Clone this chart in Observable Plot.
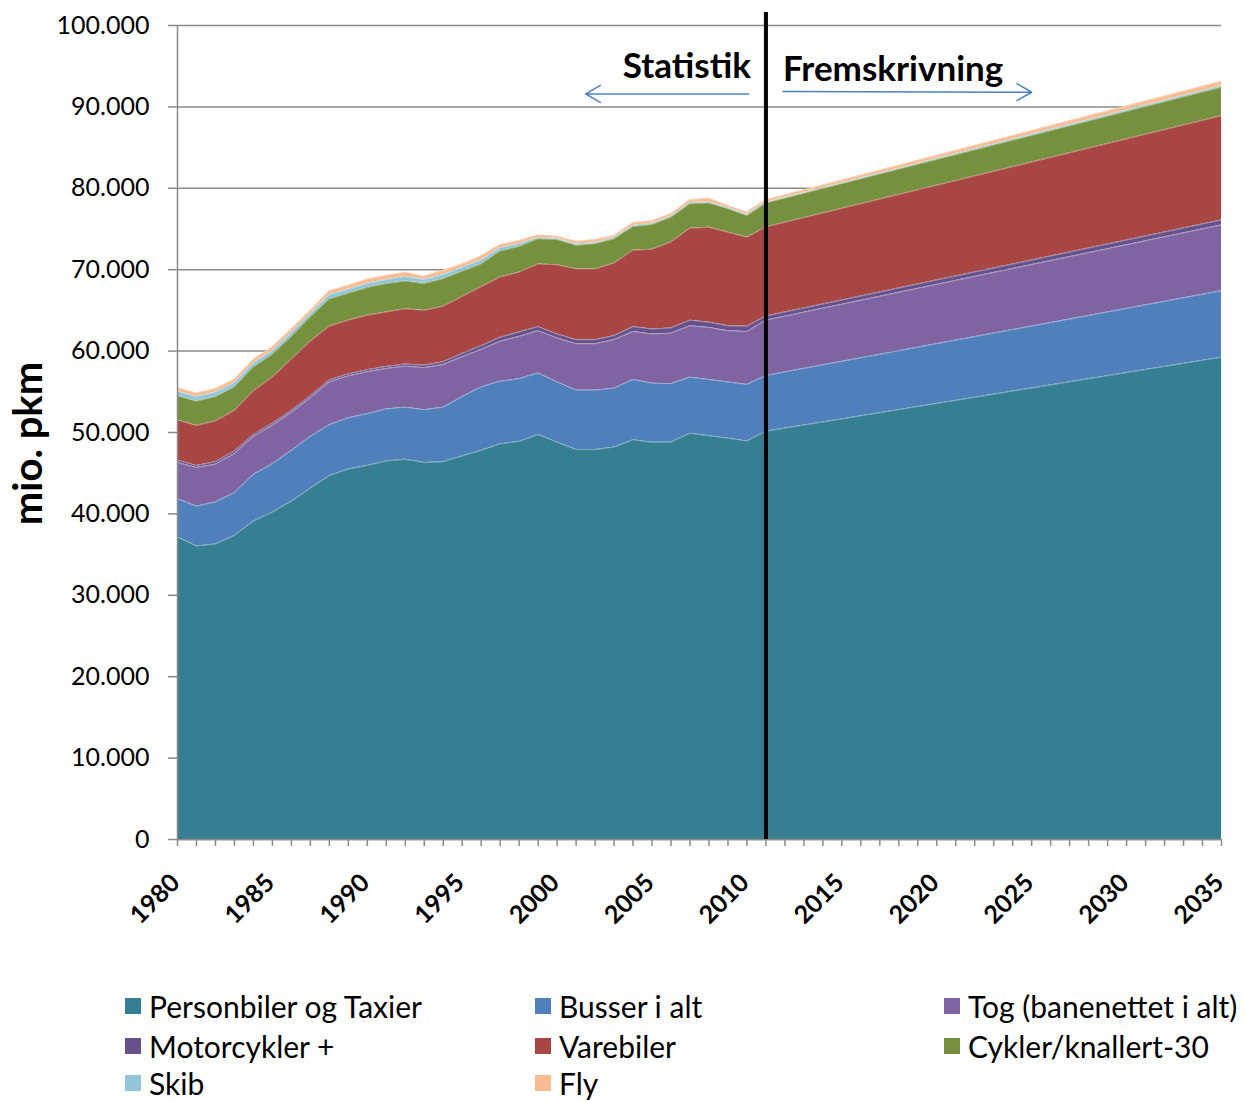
<!DOCTYPE html>
<html><head><meta charset="utf-8">
<script src="https://cdn.jsdelivr.net/npm/d3@7"></script>
<script src="https://cdn.jsdelivr.net/npm/@observablehq/plot@0.6"></script>
<style>
body{margin:0;background:#fff;font-family:Lato, sans-serif;overflow:hidden;}
#chart{width:1245px;height:950px;}
#legend{position:relative;width:1245px;height:151px;font-family:Lato, sans-serif;font-size:30px;color:#000;}
.item{position:absolute;display:flex;align-items:center;white-space:nowrap;line-height:32px;height:32px;}
.sw{width:16px;height:16px;margin-right:8px;flex:none;}
</style></head><body>
<div id="chart"></div><div id="legend"></div>
<script>
const years = [1980,1981,1982,1983,1984,1985,1986,1987,1988,1989,1990,1991,1992,1993,1994,1995,1996,1997,1998,1999,2000,2001,2002,2003,2004,2005,2006,2007,2008,2009,2010,2011,2035];
const personbiler = [37150,36050,36300,37350,39100,40200,41550,43150,44700,45500,45950,46500,46700,46300,46400,47100,47800,48600,48900,49750,48800,47900,47900,48200,49100,48800,48800,49900,49600,49300,48950,50150,59250];
const busser = [4700,4900,5150,5250,5750,5950,6250,6350,6250,6300,6350,6400,6400,6500,6700,7300,7800,7700,7700,7550,7400,7300,7300,7250,7400,7250,7200,6900,6900,6900,6950,6850,8150];
const tog = [4450,4750,4650,4800,4650,4700,4650,4750,5250,5150,5150,4950,5050,5150,5250,4900,4600,4900,5200,5200,5400,5700,5700,5950,5900,6050,6200,6300,6400,6300,6500,6800,8100];
const motorcykler = [300,250,300,300,250,250,250,250,250,250,250,250,250,300,350,400,450,500,550,500,500,500,500,500,600,600,650,700,650,600,650,500,600];
const varebiler = [4950,4900,5000,5000,5350,5700,6300,6700,6600,6600,6700,6700,6800,6750,6800,7000,7250,7400,7350,7700,8500,8700,8700,8900,9400,9800,10550,11300,11650,11500,10950,10950,12800];
const cykler = [2950,3000,3000,2900,2950,2800,2800,3000,3350,3300,3400,3500,3400,3300,3400,3100,2800,3200,3150,3100,3100,2900,3100,3000,2900,3050,3050,3000,3000,2900,2650,2950,3500];
const skib = [550,550,550,500,500,450,450,400,550,500,500,500,550,500,500,500,500,400,350,200,150,150,150,150,150,150,150,150,150,150,150,100,200];
const fly = [450,450,450,450,450,450,450,400,450,500,550,500,550,400,550,400,500,400,400,300,250,350,350,250,350,300,300,350,450,250,300,300,550];

const seriesNames = ["Personbiler og Taxier","Busser i alt","Tog (banenettet i alt)","Motorcykler +","Varebiler","Cykler/knallert-30","Skib","Fly"];
const seriesValues = [personbiler,busser,tog,motorcykler,varebiler,cykler,skib,fly];
const seriesColors = ["#367f92","#4f80bc","#8064a2","#66518a","#a84643","#76913d","#93c6d9","#f9bb91"];

const yTicks = [0,10000,20000,30000,40000,50000,60000,70000,80000,90000,100000];
const xLabelYears = [1980,1985,1990,1995,2000,2005,2010,2015,2020,2025,2030,2035];
const allYears = d3.range(1980, 2036);
const splitYear = 2011;
const leftNote = {text:"Statistik", x:2011, y:93600};
const rightNote = {text:"Fremskrivning", x:2011, y:93200};
const arrows = [
  {x1:2010.1, x2:2001.5, y1:91600, y2:91600},
  {x1:2011.9, x2:2025.0, y1:91900, y2:91800}
];

const data = [];
seriesNames.forEach((s, i) => years.forEach((yr, j) => data.push({year: yr, series: s, value: seriesValues[i][j]})));

const fmt = d => d3.format(",")(d).replace(/,/g, ".");

const chart = Plot.plot({
  width: 1245, height: 950,
  marginLeft: 177, marginRight: 24, marginTop: 25, marginBottom: 111,
  style: {fontFamily: "Lato, sans-serif", background: "#fff", overflow: "visible"},
  x: {domain: [1980, 2035], axis: null},
  y: {domain: [0, 100000], axis: null},
  color: {domain: seriesNames, range: seriesColors},
  marks: [
    Plot.gridY(yTicks, {stroke: "#8a8a8a", strokeOpacity: 1, strokeWidth: 1.5}),
    Plot.areaY(data, Plot.stackY({x: "year", y: "value", z: "series", fill: "series", order: seriesNames, curve: "linear"})),
    Plot.lineY(data, Plot.stackY2({x: "year", y: "value", z: "series", order: seriesNames, stroke: "#ffffff", strokeOpacity: 0.35, strokeWidth: 1})),
    Plot.ruleX([1980], {stroke: "#8a8a8a", strokeWidth: 1.5}),
    Plot.ruleY([0], {stroke: "#8a8a8a", strokeWidth: 1.5}),
    Plot.axisY({ticks: yTicks, tickFormat: fmt, tickSize: 9, tickPadding: 19, fontSize: 25, stroke: "#8a8a8a", strokeWidth: 1.5, color: "#000", label: null}),
    Plot.axisX({ticks: allYears, tickFormat: () => "", tickSize: 7, stroke: "#8a8a8a", strokeWidth: 1.5, label: null}),
    Plot.text(xLabelYears, {x: d => d, y: 0, text: d => String(d), rotate: -45, textAnchor: "end", fontWeight: "bold", fontSize: 25, dx: -2, dy: 39, fill: "#000"}),
    Plot.text(["mio. pkm"], {frameAnchor: "left", text: d => d, rotate: -90, textAnchor: "middle", fontWeight: "bold", fontSize: 40, dx: -148, dy: 11, fill: "#000"}),
    Plot.ruleX([splitYear], {y1: 0, y2: 101600, stroke: "#000", strokeWidth: 4, clip: false}),
    Plot.text([leftNote], {x: "x", y: "y", text: "text", textAnchor: "end", dx: -15, fontWeight: "bold", fontSize: 35, fill: "#000", lineAnchor: "bottom"}),
    Plot.text([rightNote], {x: "x", y: "y", text: "text", textAnchor: "start", dx: 17, fontWeight: "bold", fontSize: 35, fill: "#000", lineAnchor: "bottom"}),
    Plot.arrow(arrows, {x1: "x1", y1: "y1", x2: "x2", y2: "y2", stroke: "#4f81bd", strokeWidth: 1.5, headLength: 17, headAngle: 60})
  ]
});
document.getElementById("chart").appendChild(chart);

// Legend
const legend = document.getElementById("legend");
const cols = [125, 535, 944];
const rowTops = [40, 80, 117];
seriesNames.forEach((s, i) => {
  const item = document.createElement("div");
  item.className = "item";
  item.style.left = cols[i % 3] + "px";
  item.style.top = rowTops[Math.floor(i / 3)] + "px";
  const sw = document.createElement("span");
  sw.className = "sw";
  sw.style.background = seriesColors[i];
  const lab = document.createElement("span");
  lab.textContent = s;
  item.appendChild(sw); item.appendChild(lab);
  legend.appendChild(item);
});
</script>
</body></html>
